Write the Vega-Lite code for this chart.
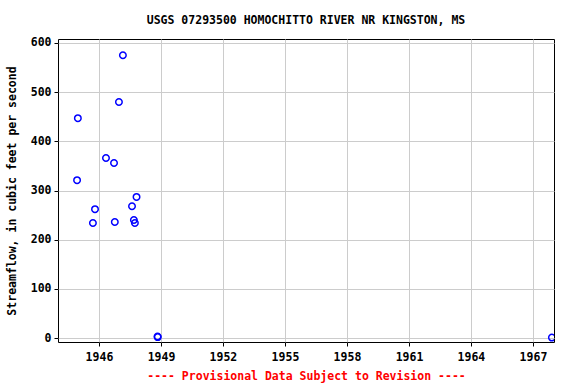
{
  "$schema": "https://vega.github.io/schema/vega-lite/v6.json",
  "width": 496,
  "height": 303,
  "autosize": {"type": "none"},
  "padding": {"left": 58, "top": 39, "right": 22, "bottom": 42},
  "background": "white",
  "title": {
    "text": "USGS 07293500 HOMOCHITTO RIVER NR KINGSTON, MS",
    "font": "DejaVu Sans Mono",
    "fontSize": 11.5,
    "fontWeight": "bold",
    "color": "black",
    "anchor": "middle",
    "offset": 10
  },
  "config": {
    "view": {"stroke": "black", "strokeWidth": 1},
    "axis": {
      "labelFont": "DejaVu Sans Mono",
      "labelFontSize": 11.5,
      "labelFontWeight": "bold",
      "labelColor": "black",
      "titleFont": "DejaVu Sans Mono",
      "titleFontSize": 11.5,
      "titleFontWeight": "bold",
      "gridColor": "#cccccc",
      "gridWidth": 1,
      "domain": false,
      "tickColor": "black",
      "tickSize": 4
    }
  },
  "data": {
    "values": [
      {"date": "1944-12-10", "flow": 321},
      {"date": "1944-12-24", "flow": 447},
      {"date": "1945-09-16", "flow": 234},
      {"date": "1945-10-23", "flow": 262},
      {"date": "1946-05-05", "flow": 366},
      {"date": "1946-09-24", "flow": 356},
      {"date": "1946-10-08", "flow": 236},
      {"date": "1946-12-20", "flow": 480},
      {"date": "1947-02-28", "flow": 575},
      {"date": "1947-08-08", "flow": 268},
      {"date": "1947-09-10", "flow": 240},
      {"date": "1947-09-28", "flow": 234},
      {"date": "1947-10-27", "flow": 287},
      {"date": "1948-11-01", "flow": 3},
      {"date": "1948-11-05", "flow": 2},
      {"date": "1967-12-02", "flow": 1}
    ]
  },
  "mark": {"type": "point", "shape": "circle", "filled": false, "color": "#0000ff", "opacity": 1, "strokeWidth": 1.5, "size": 42, "clip": true},
  "encoding": {
    "x": {
      "field": "date",
      "type": "temporal",
      "scale": {"domain": ["1944-01-08", "1968-01-08"]},
      "axis": {
        "values": ["1946-01-01", "1949-01-01", "1952-01-01", "1955-01-01", "1958-01-01", "1961-01-01", "1964-01-01", "1967-01-01"],
        "format": "%Y",
        "labelPadding": 5,
        "title": "---- Provisional Data Subject to Revision ----",
        "titleColor": "#ff0000",
        "titlePadding": 8
      }
    },
    "y": {
      "field": "flow",
      "type": "quantitative",
      "scale": {"domain": [-8, 608], "nice": false, "zero": false},
      "axis": {
        "values": [0, 100, 200, 300, 400, 500, 600],
        "title": "Streamflow, in cubic feet per second",
        "titleColor": "black",
        "titlePadding": 13,
        "labelPadding": 3
      }
    }
  }
}
